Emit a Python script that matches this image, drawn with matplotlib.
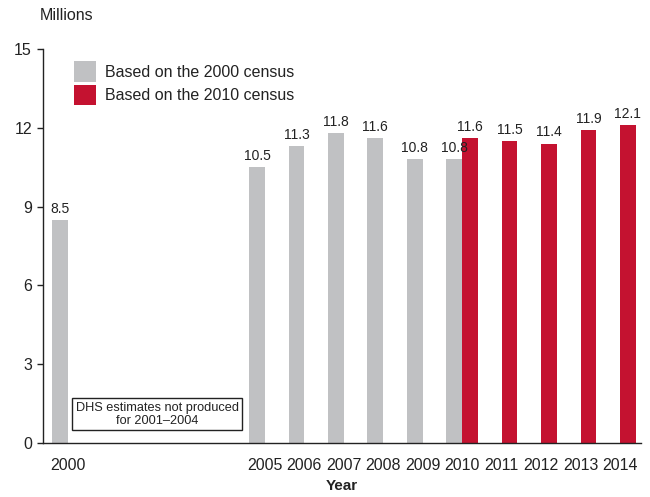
import matplotlib
matplotlib.use("Agg")
import matplotlib.pyplot as plt
from matplotlib.patches import Patch

plt.rcParams['font.family'] = ['Liberation Sans', 'DejaVu Sans']

# Estimates by census base (millions)
years_2000_base = [2000, 2005, 2006, 2007, 2008, 2009, 2010]
values_2000_base = [8.5, 10.5, 11.3, 11.8, 11.6, 10.8, 10.8]
years_2010_base = [2010, 2011, 2012, 2013, 2014]
values_2010_base = [11.6, 11.5, 11.4, 11.9, 12.1]

tick_years = [2000, 2005, 2006, 2007, 2008, 2009, 2010, 2011, 2012, 2013, 2014]
y_ticks = [0, 3, 6, 9, 12, 15]

GRAY = "#c0c1c3"
RED = "#c41230"
TEXT = "#222222"

fig = plt.figure(figsize=(6.5, 4.97), dpi=100)
ax = fig.add_axes([0.0662, 0.1087, 0.920, 0.7928])

# gray bars sit just left of the year, red bars just right
bars_old = ax.bar(years_2000_base, values_2000_base, width=-0.4, align="edge", color=GRAY)
bars_new = ax.bar(years_2010_base, values_2010_base, width=0.4, align="edge", color=RED)

for bars, vals in ((bars_old, values_2000_base), (bars_new, values_2010_base)):
    for b, v in zip(bars, vals):
        ax.annotate(f"{v:.1f}", (b.get_x() + b.get_width() / 2, v),
                    xytext=(0, 3), textcoords="offset points",
                    ha="center", va="bottom", fontsize=10, color=TEXT)

ax.set_xlim(2000 - 0.621, 2014.532)
ax.set_ylim(0, 15)
ax.set_xticks(tick_years)
ax.set_xticklabels([str(y) for y in tick_years])
ax.set_yticks(y_ticks)
ax.tick_params(axis="x", length=0, pad=11, labelsize=11.5, labelcolor=TEXT)
ax.tick_params(axis="y", length=4.5, width=1, pad=3.5, labelsize=11.5,
               labelcolor=TEXT, color=TEXT)
for side in ("top", "right"):
    ax.spines[side].set_visible(False)
for side in ("left", "bottom"):
    ax.spines[side].set_color(TEXT)
    ax.spines[side].set_linewidth(1)

ax.set_xlabel("Year", fontsize=11, fontweight="bold", color=TEXT, labelpad=4)
fig.text(40 / 650, 1 - 16 / 497, "Millions", fontsize=11.5, color=TEXT,
         ha="left", va="center")

handles = [Patch(facecolor=GRAY, edgecolor="none"),
           Patch(facecolor=RED, edgecolor="none")]
ax.legend(handles, ["Based on the 2000 census", "Based on the 2010 census"],
          loc="upper left", bbox_to_anchor=(0.052, 0.969), frameon=False,
          borderpad=0, borderaxespad=0, handlelength=1.35, handleheight=1.6,
          handletextpad=0.6, labelspacing=0.2, fontsize=11.5, labelcolor=TEXT)

ax.text(2002.27, 1.1, "DHS estimates not produced\nfor 2001\u20132004",
        ha="center", va="center", fontsize=9.2, color=TEXT, linespacing=1.1,
        bbox=dict(boxstyle="square,pad=0.25", fc="white", ec=TEXT, lw=1))

fig.savefig("out.png", dpi=100)
